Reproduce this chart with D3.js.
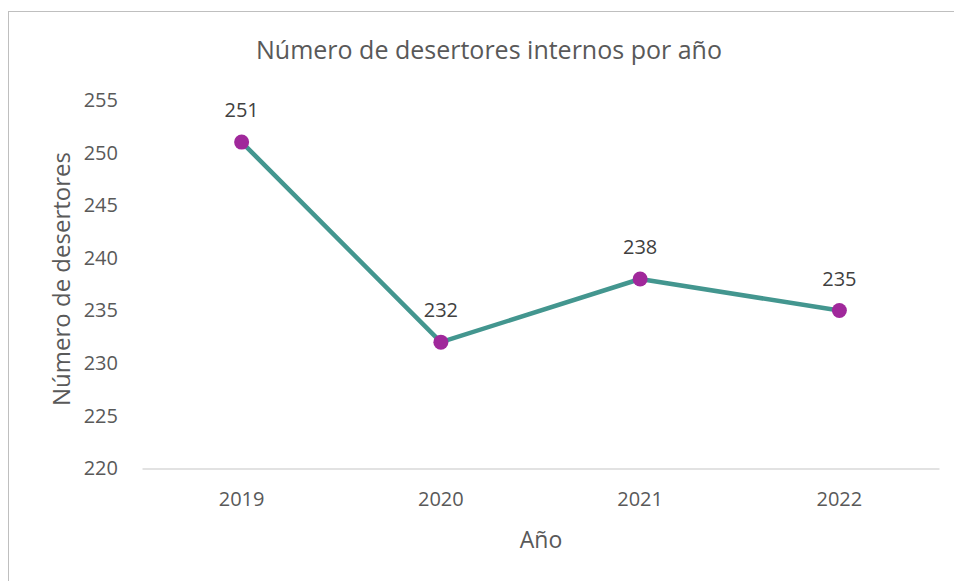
<!DOCTYPE html>
<html>
<head>
<meta charset="utf-8">
<script src="https://cdn.jsdelivr.net/npm/d3@7"></script>
<style>
  html, body { margin: 0; padding: 0; background: #fff; }
  svg { display: block; }
  text { font-family: "Open Sans", "Liberation Sans", sans-serif; }
</style>
</head>
<body>
<svg id="chart" width="954" height="581"></svg>
<script>
const years = ["2019", "2020", "2021", "2022"];
const desertores = [251, 232, 238, 235];
const yTicks = [220, 225, 230, 235, 240, 245, 250, 255];
const titleText = "Número de desertores internos por año";
const xTitle = "Año";
const yTitle = "Número de desertores";

const W = 954, H = 581;
const svg = d3.select("#chart");

// outer border
svg.append("rect")
  .attr("x", 8.5).attr("y", 11.5)
  .attr("width", W + 10).attr("height", H + 10)
  .attr("fill", "none").attr("stroke", "#BFBFBF").attr("stroke-width", 1);

const plot = { left: 142, right: 939, top: 100, bottom: 468.5 };

const x = d3.scaleBand().domain(years).range([plot.left, plot.right]);
const y = d3.scaleLinear().domain([220, 255]).range([plot.bottom, plot.top]);

// title
svg.append("text")
  .attr("x", 489).attr("y", 59)
  .attr("text-anchor", "middle")
  .attr("font-size", 25).attr("fill", "#595959")
  .text(titleText);

// y axis (labels only)
const yAxis = d3.axisLeft(y).tickValues(yTicks).tickSize(0).tickPadding(0);
const gy = svg.append("g").attr("transform", `translate(118,0)`).call(yAxis);
gy.select(".domain").remove();
gy.selectAll("text").attr("font-size", 20).attr("fill", "#595959")
  .attr("font-family", "'Open Sans', sans-serif");

// x axis
const xAxis = d3.axisBottom(x).tickSize(0).tickPadding(0);
const gx = svg.append("g").attr("transform", `translate(0,${plot.bottom})`).call(xAxis);
gx.select(".domain").attr("stroke", "#D9D9D9").attr("stroke-width", 1.5);
gx.selectAll("text").attr("font-size", 20).attr("fill", "#595959")
  .attr("font-family", "'Open Sans', sans-serif")
  .attr("dy", 0).attr("y", 37);

// axis titles
svg.append("text")
  .attr("x", 541).attr("y", 548)
  .attr("text-anchor", "middle")
  .attr("font-size", 23).attr("fill", "#595959")
  .text(xTitle);

svg.append("text")
  .attr("transform", `translate(70,279) rotate(-90)`)
  .attr("text-anchor", "middle")
  .attr("font-size", 24).attr("fill", "#595959")
  .text(yTitle);

const cx = d => x(d) + x.bandwidth() / 2;
const data = years.map((yr, i) => ({ yr, v: desertores[i] }));

// line
svg.append("path")
  .datum(data)
  .attr("fill", "none")
  .attr("stroke", "#43968F")
  .attr("stroke-width", 4.5)
  .attr("stroke-linejoin", "round")
  .attr("d", d3.line().x(d => cx(d.yr)).y(d => y(d.v)));

// markers
svg.selectAll("circle.pt").data(data).join("circle")
  .attr("class", "pt")
  .attr("cx", d => cx(d.yr)).attr("cy", d => y(d.v))
  .attr("r", 7.5)
  .attr("fill", "#A0289B");

// data labels
svg.selectAll("text.lbl").data(data).join("text")
  .attr("class", "lbl")
  .attr("x", d => cx(d.yr)).attr("y", d => y(d.v) - 25)
  .attr("text-anchor", "middle")
  .attr("font-size", 20).attr("fill", "#404040")
  .text(d => d.v);
</script>
</body>
</html>
